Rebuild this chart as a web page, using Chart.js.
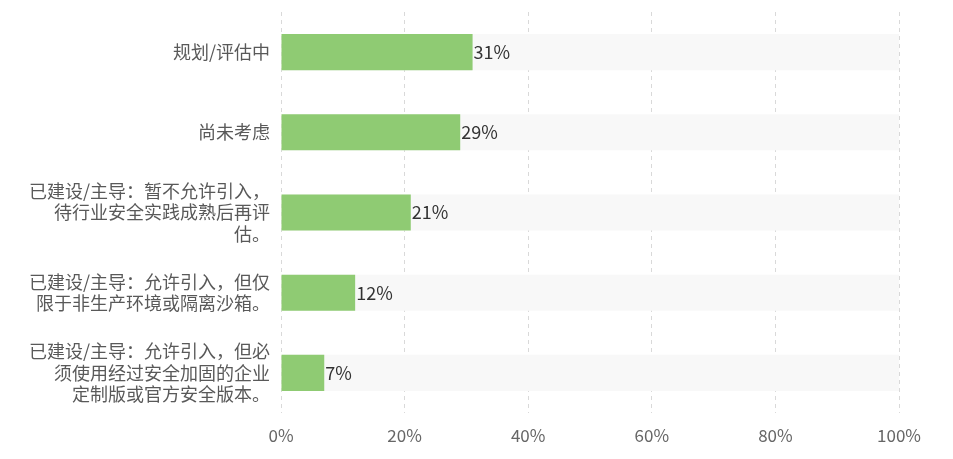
<!DOCTYPE html>
<html>
<head>
<meta charset="utf-8">
<script src="https://cdn.jsdelivr.net/npm/chart.js@4/dist/chart.umd.min.js"></script>
<style>
  html, body { margin: 0; padding: 0; background: #fff; }
  #wrap { width: 953px; height: 459px; }
</style>
</head>
<body>
<div id="wrap"><canvas id="barChart"></canvas></div>
<script>
// categories (multi-line labels as the picture wraps them)
const categories = [
    ["规划/评估中"],
    ["尚未考虑"],
    ["已建设/主导：暂不允许引入，", "待行业安全实践成熟后再评", "估。"],
    ["已建设/主导：允许引入，但仅", "限于非生产环境或隔离沙箱。"],
    ["已建设/主导：允许引入，但必", "须使用经过安全加固的企业", "定制版或官方安全版本。"]
];
const shares = [31, 29, 21, 12, 7];
const track = [100, 100, 100, 100, 100];
const xTicks = [0, 20, 40, 60, 80, 100];

const FONT = "'Noto Sans CJK SC', 'Noto Sans', sans-serif";

// draws "31%" etc. right after each bar end
const valueLabels = {
    id: "valueLabels",
    afterDatasetsDraw(chart) {
        const ctx = chart.ctx;
        const meta = chart.getDatasetMeta(1);
        ctx.save();
        ctx.font = "18px " + FONT;
        ctx.fillStyle = "#333333";
        ctx.textAlign = "left";
        ctx.textBaseline = "middle";
        meta.data.forEach(function (bar, i) {
            ctx.fillText(shares[i] + "%", bar.x + 1, bar.y);
        });
        ctx.restore();
    }
};

document.addEventListener("DOMContentLoaded", function () {
    const ctx = document.getElementById("barChart").getContext("2d");

    const data = {
        labels: categories,
        datasets: [
            {
                label: "track",
                data: track,
                backgroundColor: "#f8f8f8",
                order: 2,
            },
            {
                label: "比例",
                data: shares,
                backgroundColor: "#8fcb73",
                order: 1,
            },
        ],
    };

    const options = {
        indexAxis: "y",
        responsive: true,
        maintainAspectRatio: false,
        animation: false,
        layout: {
            padding: { top: 12, right: 54, bottom: 0, left: 0 },
        },
        datasets: {
            bar: {
                grouped: false,
                categoryPercentage: 1,
                barPercentage: 0.45,
            },
        },
        scales: {
            x: {
                min: 0,
                max: 100,
                afterBuildTicks: function (scale) {
                    scale.ticks = xTicks.map(function (v) { return { value: v }; });
                },
                afterFit: function (scale) {
                    scale.height = 46;
                    scale.paddingLeft = 0;
                    scale.paddingRight = 0;
                },
                grid: {
                    color: "#d9d9d9",
                    lineWidth: 1,
                    drawTicks: false,
                },
                border: { display: false, dash: [4, 4] },
                ticks: {
                    padding: 12,
                    color: "#666666",
                    font: { family: FONT, size: 17 },
                    callback: function (value) {
                        return value + "%";
                    },
                },
            },
            y: {
                afterFit: function (scale) {
                    scale.width = 281;
                    scale.paddingTop = 0;
                    scale.paddingBottom = 0;
                },
                grid: { display: false, drawTicks: false },
                border: { display: false },
                ticks: {
                    padding: 11,
                    color: "#595959",
                    font: { family: FONT, size: 18, lineHeight: 1.2 },
                },
            },
        },
        plugins: {
            legend: { display: false },
            tooltip: { enabled: false },
        },
    };

    new Chart(ctx, {
        type: "bar",
        data: data,
        options: options,
        plugins: [valueLabels],
    });
});
</script>
</body>
</html>
